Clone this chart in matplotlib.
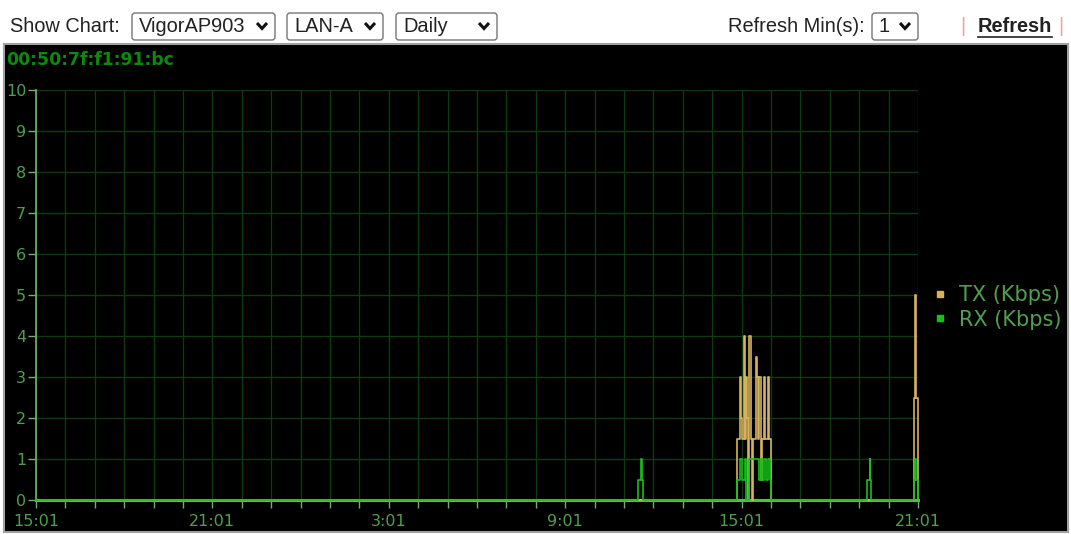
import matplotlib.pyplot as plt
from matplotlib.patches import Rectangle, FancyBboxPatch
from matplotlib.lines import Line2D
from matplotlib.transforms import IdentityTransform

# minutes after 15:01 (first day) where the rate changes, and the new rate (Kbps)
tx_min = [0, 1430, 1436, 1439, 1441, 1444, 1446, 1449, 1451, 1453, 1456, 1459, 1461,
          1464, 1469, 1471, 1473, 1476, 1479, 1481, 1485, 1487, 1493, 1495, 1501,
          1791, 1794, 1796, 1799, 1800]
tx_kbps = [0, 1.5, 3, 2, 1.5, 4, 1.5, 3, 2, 0, 4, 1.5, 0,
           1.5, 3.5, 3, 1.5, 3, 0.5, 1.5, 3, 1.5, 3, 1.5, 0,
           2.5, 5, 2.5, 0, 0]
rx_min = [0, 1229, 1235, 1237, 1239, 1430, 1436, 1440, 1446, 1449, 1455, 1476, 1479, 1482,
          1486, 1490, 1493, 1497, 1501, 1696, 1702, 1703, 1705, 1791, 1793, 1795, 1799, 1800]
rx_kbps = [0, 0.5, 1, 0.5, 0, 0.5, 1, 0.5, 1, 0, 1, 0.5, 1, 0.5,
           1, 0.5, 1, 0.5, 0, 0.5, 1, 0.5, 0, 0.5, 1, 0.5, 0, 0]

x_labels = ['15:01', '21:01', '3:01', '9:01', '15:01', '21:01']
mac = '00:50:7f:f1:91:bc'

W, H = 1071, 534
TX_COLOR = '#d6b25e'
RX_COLOR = '#17c017'
LABEL_GREEN = '#4f9f4f'

plt.rcParams['font.family'] = 'DejaVu Sans'
fig = plt.figure(figsize=(W / 100, H / 100), dpi=100)
fig.patch.set_facecolor('white')
pix = IdentityTransform()

# black chart panel
fig.add_artist(Rectangle((4, H - 532), 1064, 488, facecolor='black',
                         edgecolor='#a0a0a0', lw=1.5, transform=pix, zorder=-1))

ax = fig.add_axes([36 / W, 34 / H, 882 / W, 410 / H])
ax.set_facecolor('black')

ax.step(tx_min, tx_kbps, where='post', color=TX_COLOR, lw=1.2, clip_on=False, zorder=3)
ax.step(rx_min, rx_kbps, where='post', color=RX_COLOR, lw=1.2, clip_on=False, zorder=4)

ax.set_xlim(0, 1800)
ax.set_ylim(0, 10)
ax.set_yticks(range(11))
hours = list(range(0, 1801, 60))
ax.set_xticks(hours)
ax.set_xticklabels([x_labels[i // 6] if i % 6 == 0 else '' for i in range(len(hours))])

ax.grid(True, color='#0f3a0f', lw=1, zorder=0)
ax.set_axisbelow(True)
for side in ['top', 'right']:
    ax.spines[side].set_visible(False)
ax.spines['left'].set_color('#6cb86c')
ax.spines['left'].set_linewidth(1.2)
ax.spines['bottom'].set_color('#3ccc3c')
ax.spines['bottom'].set_linewidth(2.2)
ax.tick_params(direction='out', length=6, width=1, color='#7aa87a',
               labelcolor=LABEL_GREEN, labelsize=11.5)
ax.tick_params(axis='y', pad=1)
ax.tick_params(axis='x', pad=4)

# legend
handles = [Line2D([], [], marker='s', ls='none', color=TX_COLOR, markersize=4.5),
           Line2D([], [], marker='s', ls='none', color=RX_COLOR, markersize=4.5)]
fig.legend(handles, ['TX (Kbps)', 'RX (Kbps)'], loc='upper left',
           bbox_to_anchor=(930 / W, 1 - 285 / H), frameon=False, fontsize=15,
           labelcolor=LABEL_GREEN, handlelength=1, handletextpad=0.4,
           borderpad=0, borderaxespad=0, labelspacing=0.22)

# MAC address title
fig.text(6 / W, 1 - 60 / H, mac, fontsize=12.4, fontweight='bold',
         color='#0b8a0b', va='center', ha='left')


# header controls
def px(x, y):
    return x / W, 1 - y / H


hdr = dict(family='Liberation Sans', fontsize=14.4, va='center', color='#222222')
fig.text(*px(10, 27), 'Show Chart:', **hdr)
fig.text(*px(728, 27), 'Refresh Min(s):', **hdr)

boxes = [(132, 275, 'VigorAP903'), (287, 383, 'LAN-A'), (396, 497, 'Daily'), (872, 918, '1')]
for x0, x1, label in boxes:
    fig.add_artist(FancyBboxPatch((x0, H - 40), x1 - x0, 27,
                                  boxstyle='round,pad=0,rounding_size=3',
                                  facecolor='white', edgecolor='#767676', lw=1,
                                  transform=pix))
    fig.text(*px(x0 + 7, 27), label, **hdr)
    cx = x1 - 13
    fig.add_artist(Line2D([cx - 5, cx, cx + 5], [H - 23, H - 28.5, H - 23],
                          color='#111111', lw=2.2, transform=pix,
                          solid_capstyle='butt', solid_joinstyle='miter'))

fig.text(*px(963, 27), '|', family='Liberation Sans', fontsize=14.4, va='center',
         ha='center', color='#f4a0a0')
fig.text(*px(1061, 27), '|', family='Liberation Sans', fontsize=14.4, va='center',
         ha='center', color='#f4a0a0')
fig.text(*px(978, 27), 'Refresh', family='Liberation Sans', fontsize=14.4,
         fontweight='bold', va='center', color='#222222')
fig.add_artist(Line2D([978, 1052], [H - 37, H - 37], color='#222222', lw=1.2,
                      transform=pix))

fig.savefig('out.png', dpi=100)
